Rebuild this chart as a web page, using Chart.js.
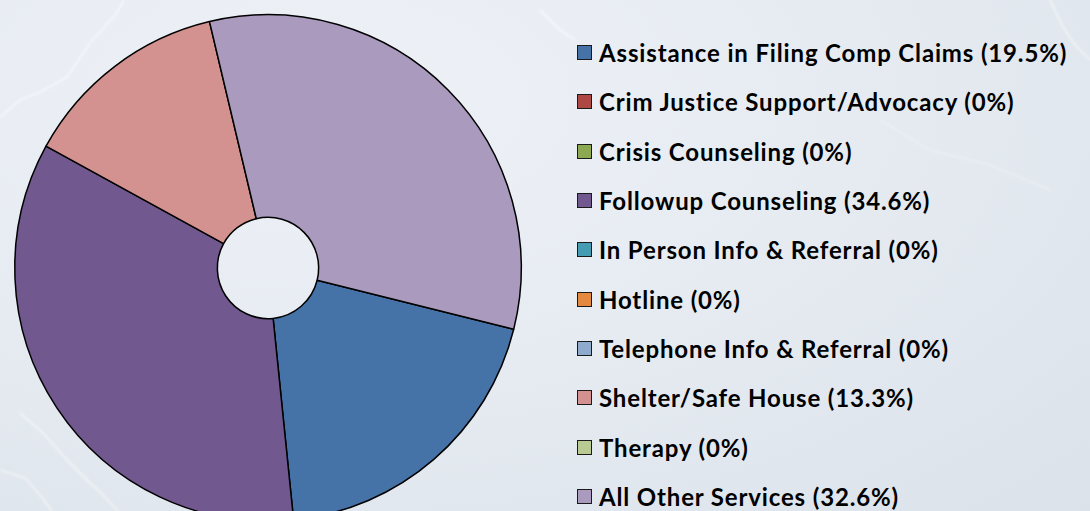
<!DOCTYPE html>
<html>
<head>
<meta charset="utf-8">
<script src="https://cdn.jsdelivr.net/npm/chart.js@4.4.1/dist/chart.umd.min.js"></script>
<style>
  html, body {
    margin: 0;
    padding: 0;
    width: 1090px;
    height: 511px;
    overflow: hidden;
  }
  body {
    position: relative;
    background: radial-gradient(ellipse at 30% 20%, #eef2f7 0%, #e5eaf1 55%, #dbe2ea 100%);
    font-family: 'Lato', 'Open Sans', sans-serif;
  }
  #veios {
    position: absolute;
    left: 0;
    top: 0;
  }
  #pieWrap {
    position: absolute;
    left: 0;
    top: 0;
    width: 536px;
    height: 536px;
  }
  #legenda {
    position: absolute;
    left: 577px;
    top: 28px;
    margin: 0;
    padding: 0;
    list-style: none;
  }
  #legenda li {
    height: 49.3px;
    display: flex;
    align-items: center;
    font-weight: bold;
    font-size: 24px;
    letter-spacing: 0.85px;
    color: #000;
    white-space: nowrap;
  }
  #legenda .caixa {
    width: 13px;
    height: 13px;
    border: 1.5px solid #1a1a1a;
    margin-right: 7px;
    flex: none;
  }
</style>
</head>
<body>
<!-- textura de mármore bem leve no fundo -->
<svg id="veios" width="1090" height="511">
  <defs>
    <filter id="suave"><feGaussianBlur stdDeviation="0.9"/></filter>
  </defs>
  <g fill="none" stroke="#ffffff" stroke-opacity="0.5" stroke-width="1.8" filter="url(#suave)">
    <polyline points="124,0 116,14 90,43 67,77 40,92 20,100 0,117"/>
    <polyline points="20,413 43,433 67,460 87,480 100,492 118,511"/>
    <polyline points="0,470 25,478 40,495 52,511"/>
    <polyline points="540,10 560,30 575,40"/>
    <polyline points="1050,0 1062,25 1075,45 1090,60"/>
  </g>
  <g fill="none" stroke="#ffffff" stroke-opacity="0.3" stroke-width="1.4" filter="url(#suave)">
    <polyline points="880,120 930,150 990,165 1050,190"/>
  </g>
</svg>
<div id="pieWrap"><canvas id="servicosChart" width="536" height="536"></canvas></div>
<ul id="legenda"></ul>
<script>
// categorias e valores (%)
const servicos = [
    'Assistance in Filing Comp Claims',
    'Crim Justice Support/Advocacy',
    'Crisis Counseling',
    'Followup Counseling',
    'In Person Info & Referral',
    'Hotline',
    'Telephone Info & Referral',
    'Shelter/Safe House',
    'Therapy',
    'All Other Services'
]
const percentuais = [19.5, 0, 0, 34.6, 0, 0, 0, 13.3, 0, 32.6]
const rotulosPct = ['19.5%', '0%', '0%', '34.6%', '0%', '0%', '0%', '13.3%', '0%', '32.6%']
const cores = [
    '#4573a8', '#ad4845', '#8ca850', '#71588f', '#449bb2',
    '#e38a40', '#8eaacc', '#d39290', '#b9cb93', '#a99abe'
]

const ctx = document.getElementById('servicosChart').getContext('2d')

const grafico = new Chart(ctx, {
    type: 'doughnut',
    data: {
        labels: servicos,
        datasets: [{
            data: percentuais,
            backgroundColor: cores,
            borderColor: '#000',
            borderWidth: 1.5
        }]
    },
    options: {
        responsive: false,
        animation: false,
        rotation: 104,
        cutout: '20%',
        layout: { padding: 14 },
        plugins: {
            legend: { display: false },
            tooltip: { enabled: false }
        }
    }
})

// legenda em html, montada a partir dos itens do próprio gráfico
const legenda = document.getElementById('legenda')
const itens = grafico.options.plugins.legend.labels.generateLabels(grafico)
itens.forEach(function (item, i) {
    const li = document.createElement('li')
    const caixa = document.createElement('span')
    caixa.className = 'caixa'
    caixa.style.background = item.fillStyle
    li.appendChild(caixa)
    li.appendChild(document.createTextNode(item.text + ' (' + rotulosPct[i] + ')'))
    legenda.appendChild(li)
})
</script>
</body>
</html>
